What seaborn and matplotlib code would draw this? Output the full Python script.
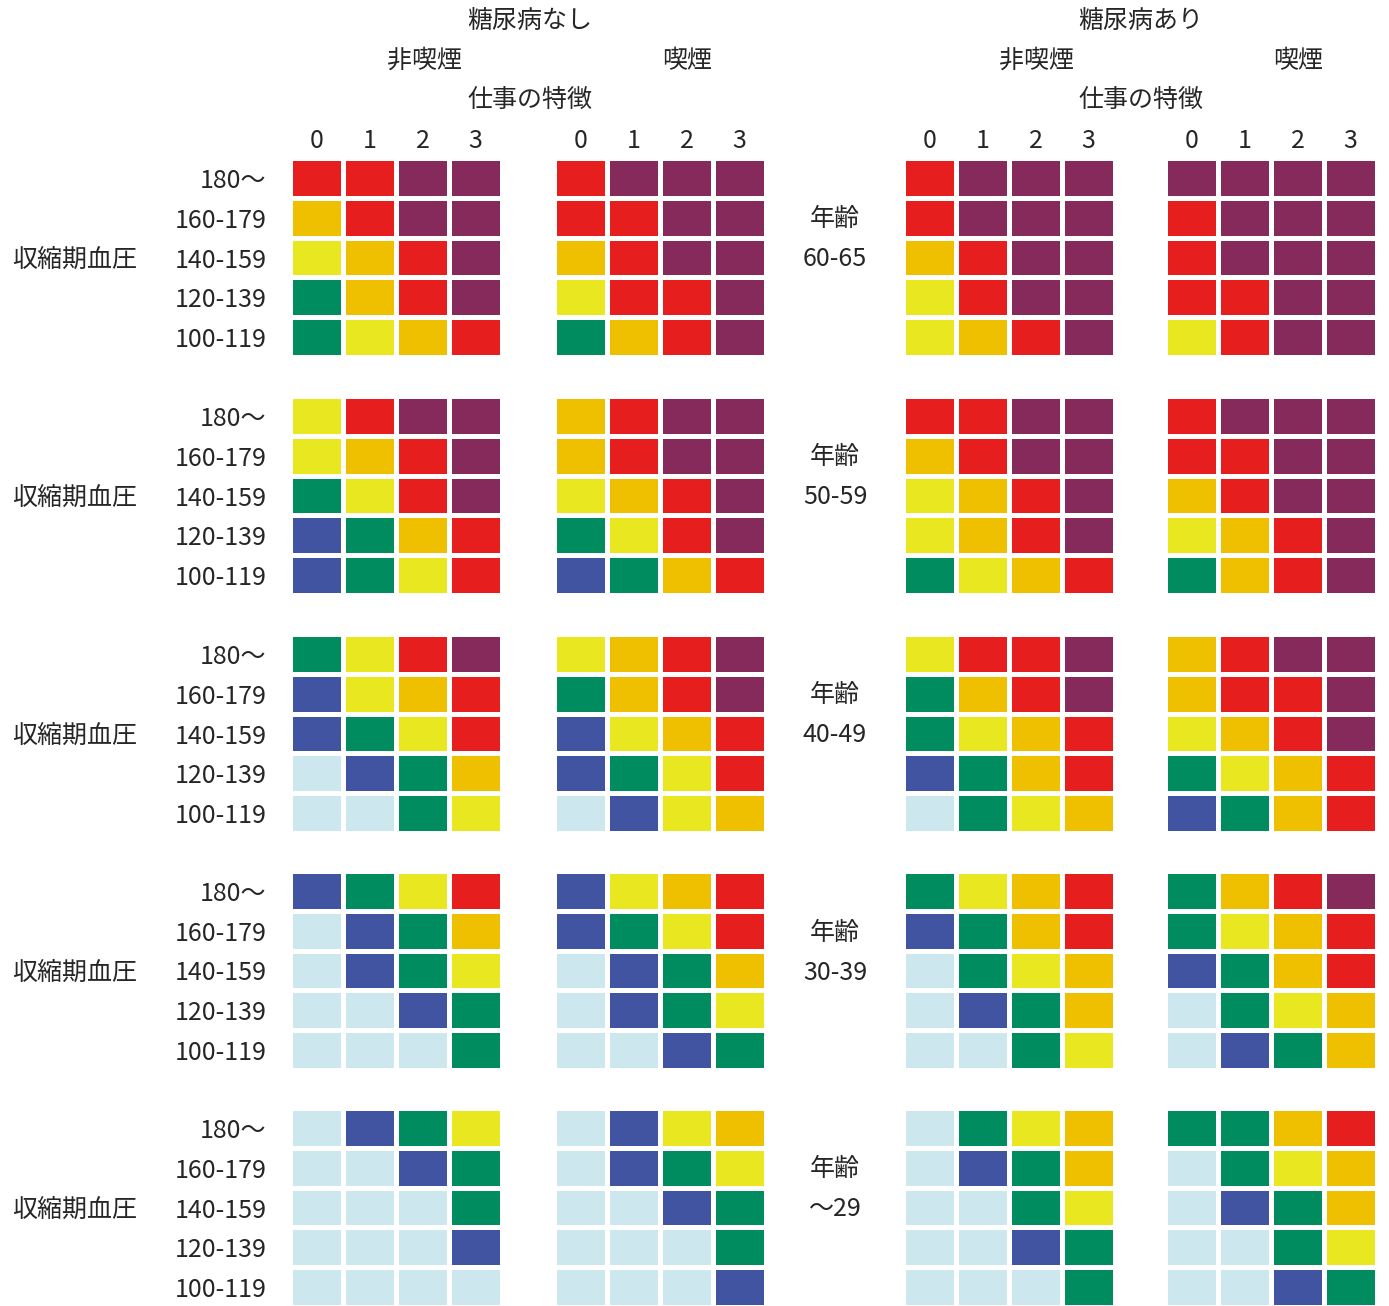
import seaborn as sns
import matplotlib.pyplot as plt
import matplotlib.transforms as mtransforms
import numpy as np
import pandas as pd
from matplotlib.colors import ListedColormap

# risk level letters: L<B<G<Y<O<R<P ; each row = 4 panels
# (no diabetes/non-smoker, no diabetes/smoker, diabetes/non-smoker, diabetes/smoker)
bp_labels = ["180～", "160-179", "140-159", "120-139", "100-119"]
job_labels = ["0", "1", "2", "3"]
age_labels = ["60-65", "50-59", "40-49", "30-39", "～29"]

age_60_65 = ["RRPP RPPP RPPP PPPP",
             "ORPP RRPP RPPP RPPP",
             "YORP ORPP ORPP RPPP",
             "GORP YRRP YRPP RRPP",
             "GYOR GORP YORP YRPP"]
age_50_59 = ["YRPP ORPP RRPP RPPP",
             "YORP ORPP ORPP RRPP",
             "GYRP YORP YORP ORPP",
             "BGOR GYRP YORP YORP",
             "BGYR BGOR GYOR GORP"]
age_40_49 = ["GYRP YORP YRRP ORPP",
             "BYOR GORP GORP ORRP",
             "BGYR BYOR GYOR YORP",
             "LBGO BGYR BGOR GYOR",
             "LLGY LBYO LGYO BGOR"]
age_30_39 = ["BGYR BYOR GYOR GORP",
             "LBGO BGYR BGOR GYOR",
             "LBGY LBGO LGYO BGOR",
             "LLBG LBGY LBGO LGYO",
             "LLLG LLBG LLGY LBGO"]
age_u29 = ["LBGY LBYO LGYO GGOR",
           "LLBG LBGY LBGO LGYO",
           "LLLG LLBG LLGY LBGO",
           "LLLB LLLG LLBG LLGY",
           "LLLL LLLB LLLG LLBG"]
age_data = [age_60_65, age_50_59, age_40_49, age_30_39, age_u29]

levels = "LBGYORP"
colors = ["#cce8ee", "#4054a2", "#008c5e", "#e9e720", "#eec000", "#e61e1e", "#852a5a"]
cmap = ListedColormap(colors)

sns.set_theme(style="white")
plt.rcParams['font.family'] = ['Noto Sans CJK JP', 'DejaVu Sans']

W, H = 1389, 1306
fig = plt.figure(figsize=(W / 100, H / 100), dpi=100)

def fx(x):
    return x / W

def fy(y):
    return 1 - y / H

panel_x = [290, 554, 903, 1165]
panel_w = 212
row_top = [158, 396, 634, 871, 1108]
panel_h = 199
fs = 18
shift_down = mtransforms.ScaledTranslation(0, -0.03, fig.dpi_scale_trans)

for r, rows in enumerate(age_data):
    for p in range(4):
        grid = [[levels.index(ch) for ch in row.split()[p]] for row in rows]
        df = pd.DataFrame(grid, index=bp_labels, columns=job_labels)
        ax = fig.add_axes([fx(panel_x[p]), fy(row_top[r] + panel_h),
                           fx(panel_w), panel_h / H])
        sns.heatmap(df, ax=ax, cmap=cmap, vmin=-0.5, vmax=6.5, cbar=False,
                    linewidths=2.2, linecolor="white",
                    xticklabels=(r == 0), yticklabels=(p == 0))
        ax.tick_params(length=0, labelsize=fs)
        if r == 0:
            ax.xaxis.tick_top()
            ax.tick_params(axis="x", pad=3)
        ax.set_xlabel("")
        ax.set_ylabel("")
        if p == 0:
            ax.set_yticklabels(bp_labels, rotation=0, ha="right", va="center",
                               fontsize=fs)
            ax.tick_params(axis="y", pad=17)
            for lab in ax.get_yticklabels():
                lab.set_transform(lab.get_transform() + shift_down)
    yc = row_top[r] + panel_h / 2 + 2
    fig.text(fx(12), fy(yc), "収縮期血圧", fontsize=fs, ha="left", va="center")
    fig.text(fx(835), fy(yc - 40), "年齢", fontsize=fs, ha="center", va="center")
    fig.text(fx(835), fy(yc), age_labels[r], fontsize=fs, ha="center", va="center")

# column headers
fig.text(fx(530), fy(21), "糖尿病なし", fontsize=fs, ha="center", va="center")
fig.text(fx(1141), fy(21), "糖尿病あり", fontsize=fs, ha="center", va="center")
for xc, txt in [(425, "非喫煙"), (687, "喫煙"), (1036, "非喫煙"), (1298, "喫煙")]:
    fig.text(fx(xc), fy(61), txt, fontsize=fs, ha="center", va="center")
fig.text(fx(530), fy(100), "仕事の特徴", fontsize=fs, ha="center", va="center")
fig.text(fx(1141), fy(100), "仕事の特徴", fontsize=fs, ha="center", va="center")

fig.savefig("out.png", dpi=100)
